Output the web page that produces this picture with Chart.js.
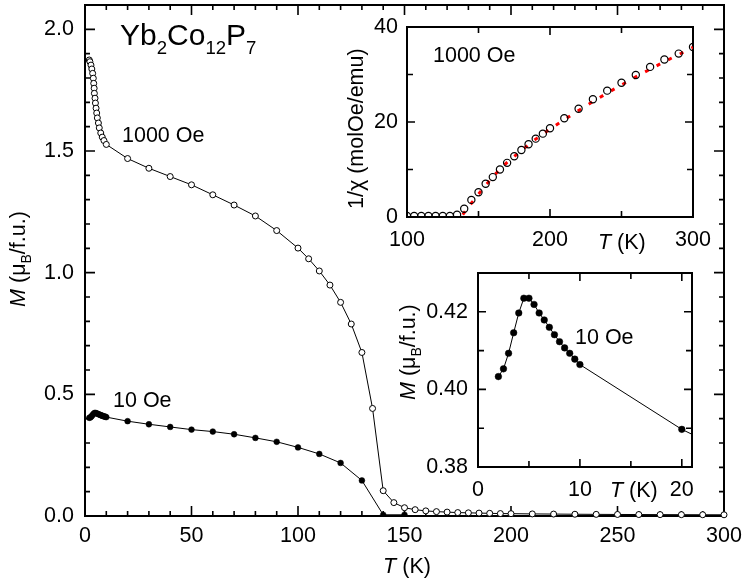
<!DOCTYPE html>
<html>
<head>
<meta charset="utf-8">
<script src="https://cdn.jsdelivr.net/npm/chart.js@4.4.1/dist/chart.umd.min.js"></script>
<style>
html, body { margin: 0; padding: 0; background: #fff; }
#wrap { position: relative; width: 747px; height: 581px; overflow: hidden; }
canvas { position: absolute; }
</style>
</head>
<body>
<div id="wrap">
<canvas id="main" width="747" height="581" style="left:0;top:0"></canvas>
<canvas id="chi" width="400" height="255" style="left:330px;top:10px"></canvas>
<canvas id="low" width="340" height="245" style="left:385px;top:262px"></canvas>
</div>
<script>
// main panel, 1000 Oe (open circles)
const tHigh = [2.0, 2.3, 2.8, 3.2, 3.6, 3.9, 4.1, 4.3, 4.4, 4.7, 4.9, 5.2, 5.5, 5.8, 6.3, 6.7, 7.4, 8.1, 8.9, 10,
  20, 30, 40, 50, 60, 70, 80, 90, 100, 105, 110, 115, 120, 125, 130, 135, 140, 145, 150, 155, 160, 165, 170, 175,
  180, 185, 190, 195, 200, 210, 220, 230, 240, 250, 260, 270, 280, 290, 300];
const mHigh = [1.874, 1.867, 1.853, 1.837, 1.819, 1.799, 1.778, 1.758, 1.737, 1.717, 1.697, 1.676, 1.656, 1.636, 1.615, 1.595, 1.574, 1.557, 1.543, 1.527,
  1.469, 1.429, 1.395, 1.361, 1.320, 1.278, 1.233, 1.173, 1.101, 1.057, 1.007, 0.949, 0.878, 0.789, 0.672, 0.442, 0.104, 0.055, 0.034, 0.026, 0.021, 0.018, 0.016, 0.014,
  0.013, 0.012, 0.011, 0.010, 0.0096, 0.0086, 0.0079, 0.0072, 0.0067, 0.0063, 0.0060, 0.0057, 0.0054, 0.0052, 0.0050];

// 10 Oe (filled circles), also used by the low-T inset
const tLow = [2, 2.5, 3, 3.5, 4, 4.5, 5, 5.5, 6, 6.5, 7, 7.5, 8, 8.5, 9, 9.5, 10,
  20, 30, 40, 50, 60, 70, 80, 90, 100, 110, 120, 130, 140, 150];
const mLow = [0.4033, 0.4053, 0.4093, 0.4146, 0.4197, 0.4235, 0.4235, 0.4219, 0.4197, 0.4179, 0.4160, 0.4141, 0.4123, 0.4107, 0.4093, 0.4078, 0.4064,
  0.3897, 0.377, 0.366, 0.355, 0.347, 0.336, 0.321, 0.305, 0.282, 0.255, 0.218, 0.146, 0.005, 0.005];

// inverse susceptibility inset
const tInv = [100, 105, 110, 115, 120, 125, 130, 135, 140, 145, 150, 155, 160, 165, 170, 175, 180, 185, 190, 195, 200,
  210, 220, 230, 240, 250, 260, 270, 280, 290, 300];
const invChi = [0.2, 0.2, 0.2, 0.2, 0.2, 0.2, 0.2, 0.5, 1.75, 3.6, 5.2, 7.0, 8.4, 10.0, 11.4, 12.8, 14.1, 15.3, 16.5, 17.55, 18.7,
  20.8, 22.8, 24.8, 26.6, 28.25, 29.9, 31.6, 33.15, 34.4, 35.8];
// fit (red dotted)
const tFit = [139, 145, 150, 160, 170, 180, 190, 200, 210, 220, 230, 240, 250, 260, 270, 280, 290, 300];
const fitChi = [0.5, 2.9, 4.8, 8.5, 11.5, 14.0, 16.4, 18.5, 20.5, 22.4, 24.3, 26.1, 27.8, 29.5, 31.1, 32.7, 34.2, 35.7];

// tick values
const mainXTicks = [0, 50, 100, 150, 200, 250, 300];
const mainYTicks = [0, 0.5, 1.0, 1.5, 2.0];
const chiXTicks = [100, 200, 300];
const chiYTicks = [0, 20, 40];
const lowXTicks = [0, 10, 20];
const lowYTicks = [0.38, 0.40, 0.42];

const FONT = '"Liberation Sans", Arial, Helvetica, sans-serif';
Chart.defaults.font.family = FONT;
Chart.defaults.font.size = 21.5;
Chart.defaults.color = '#000';

function pts(xs, ys) { return xs.map((x, i) => ({ x: x, y: ys[i] })); }
function steps(a, b, d, skip) {
  const out = [];
  for (let v = a; v <= b + d / 1000; v += d) {
    const r = Math.round(v * 1000) / 1000;
    if (!skip.some(s => Math.abs(s - r) < d / 100)) out.push(r);
  }
  return out;
}
function fitW(w) { return s => { s.width = w; s.paddingTop = 0; s.paddingBottom = 0; }; }
function fitH(h) { return s => { s.height = h; s.paddingLeft = 0; s.paddingRight = 0; }; }

function axis(min, max, ticks, fmt, pad, fitFn) {
  return {
    min: min, max: max,
    grid: { display: false, drawTicks: false },
    border: { display: false },
    afterBuildTicks: s => { s.ticks = ticks.map(v => ({ value: v })); },
    afterFit: fitFn,
    ticks: { padding: pad, maxRotation: 0, autoSkip: false, callback: v => fmt(v) }
  };
}

// box + inward ticks on all four sides
function framePlugin(xMaj, xMin, yMaj, yMin, lMaj, lMin) {
  return {
    id: 'frame',
    beforeDatasetsDraw(chart) {
      const ctx = chart.ctx, a = chart.chartArea;
      const sx = chart.scales.x, sy = chart.scales.y;
      ctx.save();
      ctx.strokeStyle = '#000';
      ctx.lineWidth = 1.6;
      ctx.beginPath();
      const tick = (vals, len, isX) => vals.forEach(v => {
        if (isX) {
          const p = sx.getPixelForValue(v);
          ctx.moveTo(p, a.bottom); ctx.lineTo(p, a.bottom - len);
          ctx.moveTo(p, a.top); ctx.lineTo(p, a.top + len);
        } else {
          const p = sy.getPixelForValue(v);
          ctx.moveTo(a.left, p); ctx.lineTo(a.left + len, p);
          ctx.moveTo(a.right, p); ctx.lineTo(a.right - len, p);
        }
      });
      tick(xMaj, lMaj, true); tick(xMin, lMin, true);
      tick(yMaj, lMaj, false); tick(yMin, lMin, false);
      ctx.stroke();
      ctx.lineWidth = 2;
      ctx.strokeRect(a.left, a.top, a.right - a.left, a.bottom - a.top);
      ctx.restore();
    }
  };
}

function runFont(r, size) {
  return (r.i ? 'italic ' : '') + (r.s ? size * r.s : size) + 'px ' + FONT;
}
function drawRuns(ctx, x, y, runs, size, align, rot) {
  ctx.save();
  ctx.translate(x, y);
  if (rot) ctx.rotate(-Math.PI / 2);
  ctx.textBaseline = 'alphabetic';
  ctx.textAlign = 'left';
  ctx.fillStyle = '#000';
  let w = 0;
  runs.forEach(r => { ctx.font = runFont(r, size); w += ctx.measureText(r.t).width; });
  let cx = align === 'center' ? -w / 2 : 0;
  runs.forEach(r => {
    ctx.font = runFont(r, size);
    ctx.fillText(r.t, cx, r.s ? size * 0.3 : 0);
    cx += ctx.measureText(r.t).width;
  });
  ctx.restore();
}

const mLabel = [{ t: 'M', i: 1 }, { t: ' (\u03bc' }, { t: 'B', s: 0.65 }, { t: '/f.u.)' }];
const tLabel = [{ t: 'T', i: 1 }, { t: ' (K)' }];

// all text labels, page coordinates (main canvas sits at 0,0)
const textPlugin = {
  id: 'texts',
  afterDraw(chart) {
    const ctx = chart.ctx;
    drawRuns(ctx, 120, 45, [{ t: 'Yb' }, { t: '2', s: 0.62 }, { t: 'Co' }, { t: '12', s: 0.62 }, { t: 'P' }, { t: '7', s: 0.62 }], 30, 'left');
    drawRuns(ctx, 122, 142, [{ t: '1000 Oe' }], 21.5, 'left');
    drawRuns(ctx, 113, 407, [{ t: '10 Oe' }], 21.5, 'left');
    drawRuns(ctx, 407, 573, tLabel, 21.5, 'center');
    drawRuns(ctx, 25, 259, mLabel, 21.5, 'center', true);
    // upper inset
    drawRuns(ctx, 433, 62, [{ t: '1000 Oe' }], 21.5, 'left');
    drawRuns(ctx, 598, 249, tLabel, 21.5, 'left');
    drawRuns(ctx, 363, 209, [{ t: '1/\u03c7 (molOe/emu)' }], 21.5, 'left', true);
    // lower inset
    drawRuns(ctx, 575, 344, [{ t: '10 Oe' }], 21.5, 'left');
    drawRuns(ctx, 610, 497, tLabel, 21.5, 'left');
    drawRuns(ctx, 415, 400, mLabel, 21.5, 'left', true);
  }
};

const base = {
  responsive: false,
  animation: false,
  devicePixelRatio: 1,
  plugins: { legend: { display: false }, tooltip: { enabled: false } }
};

new Chart(document.getElementById('main'), {
  type: 'scatter',
  data: {
    datasets: [
      { data: pts(tLow, mLow), showLine: true, borderColor: '#000', borderWidth: 1,
        pointRadius: 2.9, pointBackgroundColor: '#000', pointBorderColor: '#000', pointBorderWidth: 0.5, clip: 0 },
      { data: pts(tHigh, mHigh), showLine: true, borderColor: '#000', borderWidth: 1,
        pointRadius: 3, pointBackgroundColor: '#fff', pointBorderColor: '#000', pointBorderWidth: 1, clip: 6 }
    ]
  },
  options: Object.assign({}, base, {
    layout: { padding: { left: 0, top: 1, right: 23, bottom: 0 } },
    scales: {
      x: axis(0, 300, mainXTicks, v => String(v), 7, fitH(65)),
      y: axis(0, 2.1, mainYTicks, v => v.toFixed(1), 11, fitW(85))
    }
  }),
  plugins: [framePlugin(mainXTicks, steps(0, 300, 10, mainXTicks), mainYTicks, steps(0, 2.0, 0.1, mainYTicks), 10, 5), textPlugin]
});

new Chart(document.getElementById('chi'), {
  type: 'scatter',
  data: {
    datasets: [
      { data: pts(tInv, invChi), showLine: false, pointRadius: 3.6, pointBorderWidth: 1.2,
        pointBorderColor: '#000', pointBackgroundColor: 'rgba(0,0,0,0)' },
      { data: pts(tFit, fitChi), showLine: true, pointRadius: 0, borderColor: '#ff0000',
        borderWidth: 3, borderDash: [4, 9] }
    ]
  },
  options: Object.assign({}, base, {
    layout: { padding: { left: 0, top: 17, right: 37, bottom: 0 } },
    scales: {
      x: axis(100, 300, chiXTicks, v => String(v), 10, fitH(48)),
      y: axis(0, 40, chiYTicks, v => String(v), 9, fitW(77))
    }
  }),
  plugins: [framePlugin(chiXTicks, [150, 250], chiYTicks, [10, 30], 8, 6)]
});

new Chart(document.getElementById('low'), {
  type: 'scatter',
  data: {
    datasets: [
      { data: pts(tLow, mLow), showLine: true, borderColor: '#000', borderWidth: 1,
        pointRadius: 3.3, pointBackgroundColor: '#000', pointBorderColor: '#000', pointBorderWidth: 0.5 }
    ]
  },
  options: Object.assign({}, base, {
    layout: { padding: { left: 0, top: 11, right: 33, bottom: 0 } },
    scales: {
      x: axis(0, 21, lowXTicks, v => String(v), 10, fitH(40)),
      y: axis(0.38, 0.43, lowYTicks, v => v.toFixed(2), 10, fitW(93))
    }
  }),
  plugins: [framePlugin(lowXTicks, [5, 15], lowYTicks, [0.39, 0.41], 8, 6)]
});
</script>
</body>
</html>
